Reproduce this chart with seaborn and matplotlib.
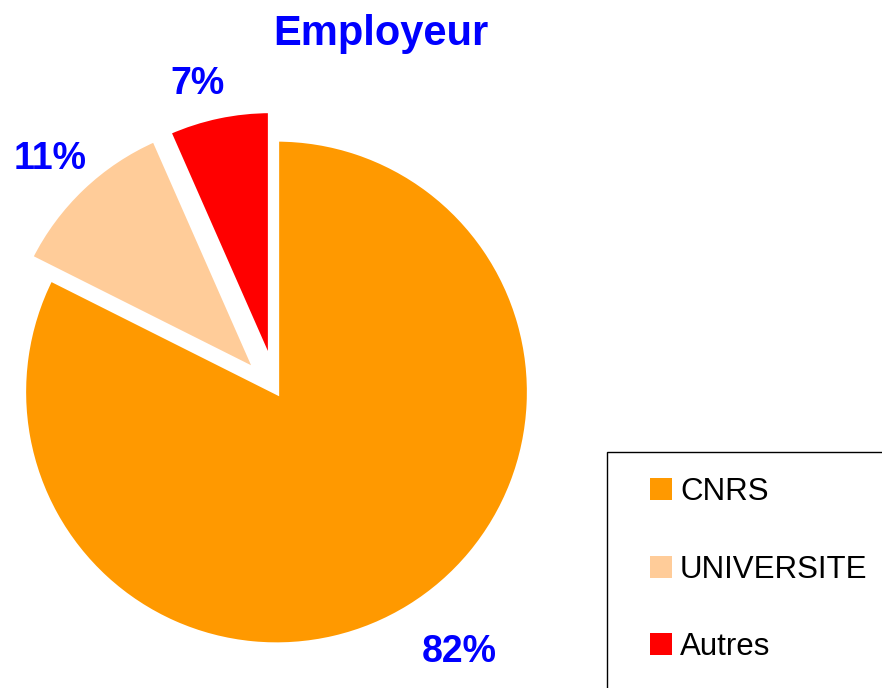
import matplotlib
matplotlib.use("Agg")
import matplotlib.pyplot as plt
from matplotlib.patches import Rectangle, Patch
import seaborn as sns

sns.set_style("white")
plt.rcParams['font.family'] = ['Liberation Sans', 'DejaVu Sans']

employeurs = ["CNRS", "UNIVERSITE", "Autres"]
parts = [82.4, 11.0, 6.6]
couleurs = ["#FF9900", "#FFCC99", "#FF0000"]
ecarts = [0.0, 0.115, 0.115]

# small shifts of the percent labels from their radial spot (axes units)
label_nudge = [(0.094, -0.007), (0.012, -0.031), (-0.043, -0.07)]

W, H = 882, 688
cx, cy, rad = 276.5, 392, 253  # pie centre / radius in pixels

fig = plt.figure(figsize=(W / 100, H / 100), dpi=100)
ax = fig.add_axes([0, 0, 1, 1])

wedges, _, pcts = ax.pie(parts, colors=couleurs, explode=ecarts, startangle=90,
                         counterclock=False, autopct='%.0f%%', pctdistance=1.2,
                         wedgeprops=dict(edgecolor='white', linewidth=3.8))
for t, (dx, dy) in zip(pcts, label_nudge):
    x, y = t.get_position()
    t.set_position((x + dx, y + dy))
    t.set_color('#0000FF')
    t.set_fontsize(27)
    t.set_fontweight('bold')

ax.set_xlim(-cx / rad, (W - cx) / rad)
ax.set_ylim(-(H - cy) / rad, cy / rad)
ax.set_aspect('equal')
ax.axis('off')

fig.text(381 / W, 1 - 34 / H, "Employeur", ha='center', va='center',
         fontsize=30, fontweight='bold', color='#0000FF')

# legend box runs off the right and bottom edges
fig.add_artist(Rectangle((607 / W, -0.1), 1, (H - 452) / H + 0.1,
                         transform=fig.transFigure, fill=False,
                         edgecolor='black', linewidth=1))
handles = [Patch(facecolor=c, edgecolor='none') for c in couleurs]
fig.legend(handles, employeurs, loc='upper left',
           bbox_to_anchor=(650 / W, 1 - 477 / H), frameon=False,
           fontsize=22.5, labelcolor='black', borderpad=0, borderaxespad=0,
           handlelength=0.7, handleheight=0.7, handletextpad=0.26,
           labelspacing=1.52)

fig.savefig("out.png", dpi=100)
